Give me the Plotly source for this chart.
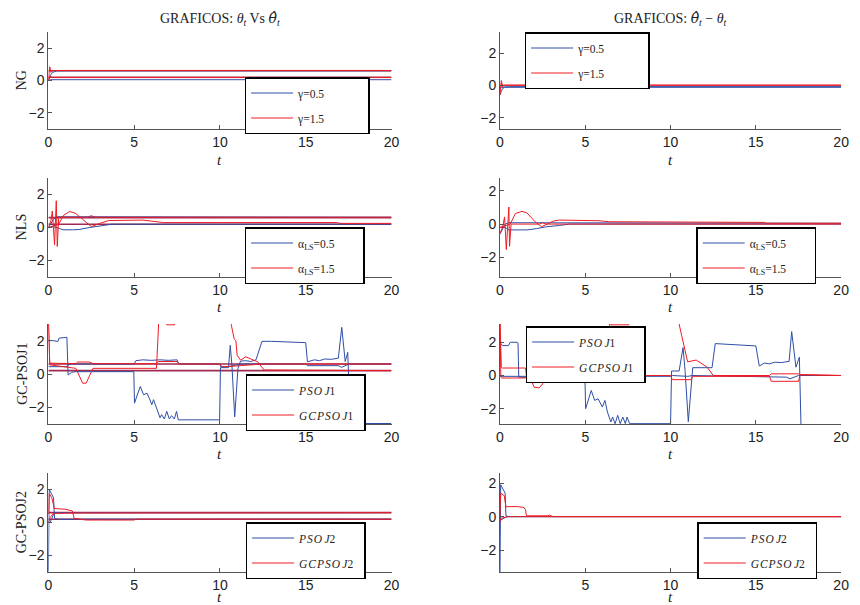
import plotly.graph_objects as go

W, H = 860, 605

# ---------------- data ----------------
t_span = [0, 20]
theta_true = [0.6, 0.2]
x_ticks = [0, 5, 10, 15, 20]
y_ticks = [-2, 0, 2]

legend_ng = ["γ=0.5", "γ=1.5"]
legend_nls = ["α<sub>LS</sub>=0.5", "α<sub>LS</sub>=1.5"]
legend_j1 = ["<i>P\u200aS\u200aO\u2009J</i>1", "<i>G\u200aC\u200aP\u200aS\u200aO\u2009J</i>1"]
legend_j2 = ["<i>P\u200aS\u200aO\u2009J</i>2", "<i>G\u200aC\u200aP\u200aS\u200aO\u2009J</i>2"]
row_labels = ["NG", "NLS", "GC-PSOJ1", "GC-PSOJ2"]

# NG (left: estimates, right: errors)
ng_b1_t = [0, 0.1, 0.25, 0.5, 20]
ng_b1_v = [0.0, 0.3, 0.5, 0.6, 0.6]
ng_b2_t = [0, 0.1, 20]
ng_b2_v = [0.0, 0.05, 0.05]
ng_r1_t = [0, 0.08, 0.15, 0.25, 20]
ng_r1_v = [0.0, 0.85, 0.5, 0.62, 0.62]
ng_r2_t = [0, 0.1, 0.2, 20]
ng_r2_v = [0.0, 0.3, 0.18, 0.18]

ngerr_b1_t = [0, 0.1, 0.25, 0.5, 20]
ngerr_b1_v = [-0.6, -0.3, -0.1, -0.08, -0.08]
ngerr_b2_t = [0, 0.1, 20]
ngerr_b2_v = [-0.2, -0.12, -0.12]
ngerr_r1_t = [0, 0.08, 0.15, 0.25, 20]
ngerr_r1_v = [-0.6, 0.3, -0.1, 0.02, 0.02]
ngerr_r2_t = [0, 0.1, 0.2, 20]
ngerr_r2_v = [-0.2, 0.1, 0.0, 0.0]

# NLS
nls_b1_t = [0, 0.3, 0.5, 3, 4, 20]
nls_b1_v = [0.0, 0.5, 0.65, 0.65, 0.62, 0.62]
nls_b2_t = [0, 0.3, 0.65, 0.85, 1.4, 1.8, 2.4, 3.1, 3.7, 20]
nls_b2_v = [0.0, 0.05, -0.06, -0.14, -0.14, -0.12, 0.0, 0.1, 0.2, 0.2]
nls_r1_t = [0, 0.15, 0.23, 0.3, 0.36, 0.46, 0.52, 0.6, 0.8, 2.3, 2.5, 2.7, 20]
nls_r1_v = [0.0, 0.4, 1.0, -0.3, -1.05, 1.62, -1.15, 0.6, 0.62, 0.62, 0.72, 0.62, 0.62]
nls_r2_t = [0, 0.6, 0.9, 1.25, 1.6, 2.0, 2.5, 3.0, 3.5, 5.5, 6.0, 6.7, 16.8, 17.0, 20]
nls_r2_v = [0.0, 0.2, 0.75, 0.97, 0.85, 0.5, 0.05, 0.25, 0.42, 0.45, 0.38, 0.3, 0.3, 0.25, 0.25]

nlserr_b1_t = [0, 0.3, 0.52, 2.15, 3.0, 20]
nlserr_b1_v = [-0.6, 0.0, 0.08, 0.08, 0.05, 0.05]
nlserr_b2_t = [0, 0.3, 0.52, 1.58, 2.15, 2.73, 3.5, 4.08, 20]
nlserr_b2_v = [-0.2, -0.2, -0.35, -0.35, -0.27, -0.16, -0.08, 0.0, 0.0]
nlserr_r1_t = [0, 0.15, 0.27, 0.37, 0.52, 0.56, 0.65, 2.3, 2.5, 2.7, 20]
nlserr_r1_v = [-0.55, -0.2, 0.43, -1.53, 1.02, -1.33, 0.0, 0.0, 0.08, 0.0, 0.0]
nlserr_r2_t = [0, 0.6, 0.9, 1.29, 1.58, 2.06, 2.44, 2.73, 3.12, 3.5, 5.42, 5.8, 6.4,
               10.5, 10.6, 15.5, 15.6, 20]
nlserr_r2_v = [-0.2, 0.0, 0.63, 0.76, 0.67, 0.14, -0.16, 0.0, 0.18, 0.24, 0.24, 0.2, 0.14,
               0.14, 0.1, 0.1, 0.05, 0.05]

# GC-PSO J1
j1_b1_t = [0, 0.3, 0.55, 0.62, 1.08, 1.15, 1.35, 1.6, 4.98, 5.02, 5.2, 5.36, 5.55, 5.75,
           5.9, 6.03, 6.13, 6.32, 6.51, 6.6, 6.76, 6.9, 7.05, 7.18, 7.34, 7.47, 7.57, 9.98,
           10.03, 10.5, 10.6, 10.7, 10.86, 11.05, 11.2, 11.5, 11.8, 12.1, 12.45, 13.0, 15.0,
           15.1, 15.5, 15.8, 16.1, 16.5, 16.9, 17.1, 17.3, 17.45, 17.6, 20]
j1_b1_v = [2.0, 2.0, 1.95, 2.15, 2.2, -0.06, 0.1, 0.14, 0.14, -1.75, -1.2, -0.75, -1.25, -1.15,
           -1.5, -1.84, -1.54, -2.04, -2.63, -2.44, -2.7, -2.24, -2.7, -2.5, -2.7, -2.24, -2.75, -2.75,
           0.38, 0.38, 1.72, 0.5, -2.57, 0.34, 0.77, 0.8, 0.75, 0.85, 1.96, 1.96, 1.88,
           0.73, 0.85, 0.8, 0.9, 0.88, 0.95, 2.8, 0.75, 1.3, -2.97, -2.97]
j1_b2_t = [0, 1.1, 1.2, 5.0, 5.1, 5.5, 6.0, 6.5, 7.0, 7.5, 7.6, 10.0, 10.05, 10.5, 11.2,
           15.0, 15.1, 16.9, 17.1, 17.3, 17.5, 20]
j1_b2_v = [0.44, 0.44, 0.6, 0.6, 0.8, 0.85, 0.82, 0.85, 0.82, 0.85, 0.6, 0.6, 0.42, 0.45, 0.6,
           0.6, 0.5, 0.5, 0.4, 0.5, 0.6, 0.6]
j1_r1_t = [0, 0.08, 1.6, 1.7, 2.4, 2.6, 6.3, 6.4, 7.5, 7.6, 10.0, 10.1, 10.5, 12.5, 20]
j1_r1_v = [3.3, 0.65, 0.62, 0.72, 0.72, 0.62, 0.62, 0.75, 0.75, 0.6, 0.6, 0.45, 0.45, 0.6, 0.6]
j1_r2_t = [0, 0.08, 1.6, 1.75, 2.0, 2.2, 2.4, 2.6, 6.3, 6.45, 6.85, 6.9, 7.35, 7.4, 10.6,
           10.67, 10.83, 10.93, 11.0, 11.2, 11.5, 11.7, 12.0, 12.2, 12.57, 17.45, 17.6, 20]
j1_r2_v = [3.3, 0.55, 0.34, 0.0, -0.55, -0.55, -0.1, 0.34, 0.34, 3.5, 3.5, 2.95, 2.95, 3.5, 3.5,
           2.9, 2.1, 2.0, 1.13, 0.83, 1.03, 0.95, 0.85, 0.73, 0.24, 0.24, 0.2, 0.2]

j1err_b1_t = [0, 0.15, 0.5, 0.6, 1.0, 1.06, 1.1, 4.98, 5.02, 5.35, 5.55, 5.75, 6.0, 6.15, 6.3,
              6.5, 6.6, 6.75, 6.9, 7.05, 7.2, 7.35, 7.45, 7.6, 10.0, 10.06, 10.5, 10.73, 10.85,
              11.04, 11.3, 12.43, 12.62, 15.0, 15.2, 15.5, 15.8, 16.1, 16.5, 16.95, 17.1, 17.35,
              17.55, 17.65, 20]
j1err_b1_v = [1.98, 1.8, 1.8, 2.0, 2.0, 1.95, -0.1, -0.1, -2.0, -0.9, -1.5, -1.4, -1.9, -1.5, -2.2,
              -2.8, -2.5, -2.9, -2.4, -2.9, -2.5, -2.9, -2.5, -2.9, -2.9, 0.27, 0.27, 1.68, 0.3,
              -2.78, 0.47, 0.47, 1.92, 1.78, 0.57, 0.75, 0.7, 0.8, 0.78, 0.85, 2.64, 0.5,
              1.1, -3.2, -3.2]
j1err_b2_t = [0, 1.1, 10.0, 10.1, 11.0, 11.3, 15.8, 16.8, 17.0, 17.2, 17.5, 20]
j1err_b2_v = [-0.05, -0.05, -0.05, 0.0, -0.05, 0.0, -0.1, -0.1, -0.2, -0.1, 0.0, 0.0]
j1err_r1_t = [0, 0.05, 0.1, 1.5, 1.6, 6.3, 6.4, 7.5, 7.6, 10.0, 10.1, 11.2, 11.3, 15.8, 15.9,
              17.5, 17.6, 20]
j1err_r1_v = [3.3, -0.1, -0.15, -0.15, 0.0, 0.0, -0.2, -0.2, 0.0, 0.0, -0.25, -0.25, -0.05, -0.05,
              -0.35, -0.35, 0.05, 0.0]
j1err_r2_t = [0, 0.08, 0.15, 1.5, 1.55, 1.75, 2.0, 2.3, 2.5, 2.6, 6.3, 6.45, 6.5, 7.55, 7.6,
              10.45, 10.5, 11.0, 11.5, 12.0, 12.15, 12.5, 15.8, 15.9, 17.5, 17.6, 20]
j1err_r2_v = [3.3, 0.5, 0.45, 0.45, 0.0, -0.1, -0.7, -0.75, -0.5, 0.0, 0.0, 3.5, 3.05, 3.05, 3.5,
              3.5, 3.1, 0.82, 0.93, 0.62, 0.5, 0.0, 0.0, 0.1, 0.1, 0.05, 0.0]

# GC-PSO J2
j2_b1_t = [0, 0.05, 0.3, 0.36, 0.6, 20]
j2_b1_v = [-2.98, 2.0, 1.5, 0.25, 0.2, 0.2]
j2_b2_t = [0, 0.1, 0.3, 0.5, 20]
j2_b2_v = [0.0, 0.0, 0.5, 0.6, 0.6]
j2_r1_t = [0, 0.05, 0.2, 0.35, 1.0, 1.4, 1.5, 2.0, 2.2, 3.0, 5.0, 5.1, 20]
j2_r1_v = [0.5, 1.75, 1.5, 0.85, 0.8, 0.7, 0.25, 0.2, 0.15, 0.15, 0.15, 0.2, 0.2]
j2_r2_t = [0, 0.1, 0.3, 1.5, 20]
j2_r2_v = [0.0, 0.3, 0.55, 0.58, 0.6]

j2err_b1_t = [0, 0.04, 0.3, 0.35, 0.5, 20]
j2err_b1_v = [-3.4, 1.9, 1.41, 0.05, 0.0, 0.0]
j2err_b2_t = [0, 0.05, 0.4, 20]
j2err_b2_v = [-0.3, -0.2, 0.0, 0.0]
j2err_r1_t = [0, 0.04, 0.25, 0.35, 1.0, 1.4, 1.5, 1.55, 2.8, 2.9, 3.0, 3.1, 20]
j2err_r1_v = [0.0, 1.4, 1.25, 0.59, 0.6, 0.55, 0.4, 0.05, 0.05, 0.1, 0.05, 0.0, 0.0]
j2err_r2_t = [0, 0.05, 0.5, 20]
j2err_r2_v = [-0.3, -0.1, 0.0, 0.0]

# ---------------- layout geometry (pixels) ----------------
BLUE = "#2f4ea6"
RED = "#ee1c24"
TRUE_C = "#a02a50"
col_px = [(45, 393), (503, 849)]
row_px = [(32, 129), (178, 277), (324, 424), (473, 572)]
y_ranges = [
    ([-3, 3], [-2.7, 3.3]),
    ([-3, 3], [-3.17, 2.76]),
    ([-3, 3], [-2.92, 3.1]),
    ([-3, 3], [-3.3, 2.6]),
]
legend_px = [
    ((244, 77), (528, 32)),
    ((244, 227), (702, 227)),
    ((245, 374), (529, 326)),
    ((245, 522), (703, 522)),
]
legend_pad = [13, 8, 2, 2]  # trailing no-break spaces to widen the legend boxes

panels = [
    (0, 0, legend_ng, [(ng_b1_t, ng_b1_v), (ng_b2_t, ng_b2_v)], [(ng_r1_t, ng_r1_v), (ng_r2_t, ng_r2_v)]),
    (0, 1, legend_ng, [(ngerr_b1_t, ngerr_b1_v), (ngerr_b2_t, ngerr_b2_v)],
     [(ngerr_r1_t, ngerr_r1_v), (ngerr_r2_t, ngerr_r2_v)]),
    (1, 0, legend_nls, [(nls_b1_t, nls_b1_v), (nls_b2_t, nls_b2_v)], [(nls_r1_t, nls_r1_v), (nls_r2_t, nls_r2_v)]),
    (1, 1, legend_nls, [(nlserr_b1_t, nlserr_b1_v), (nlserr_b2_t, nlserr_b2_v)],
     [(nlserr_r1_t, nlserr_r1_v), (nlserr_r2_t, nlserr_r2_v)]),
    (2, 0, legend_j1, [(j1_b1_t, j1_b1_v), (j1_b2_t, j1_b2_v)], [(j1_r1_t, j1_r1_v), (j1_r2_t, j1_r2_v)]),
    (2, 1, legend_j1, [(j1err_b1_t, j1err_b1_v), (j1err_b2_t, j1err_b2_v)],
     [(j1err_r1_t, j1err_r1_v), (j1err_r2_t, j1err_r2_v)]),
    (3, 0, legend_j2, [(j2_b1_t, j2_b1_v), (j2_b2_t, j2_b2_v)], [(j2_r1_t, j2_r1_v), (j2_r2_t, j2_r2_v)]),
    (3, 1, legend_j2, [(j2err_b1_t, j2err_b1_v), (j2err_b2_t, j2err_b2_v)],
     [(j2err_r1_t, j2err_r1_v), (j2err_r2_t, j2err_r2_v)]),
]

fig = go.Figure()
layout = {}
SANS = "Liberation Sans, Arial, sans-serif"
SERIF = "Liberation Serif, Times New Roman, serif"

for i, (r, c, names, blues, reds) in enumerate(panels):
    n = i + 1
    xa = "x" if n == 1 else f"x{n}"
    ya = "y" if n == 1 else f"y{n}"
    lg = "legend" if n == 1 else f"legend{n}"
    x0, x1 = col_px[c]
    y0, y1 = row_px[r]
    xticktext = [str(v) for v in x_ticks]
    if r == 3 and c == 1:
        xticktext[0] = ""
    axis_common = dict(showline=True, linecolor="#555", linewidth=1, ticks="inside", ticklen=4,
                       tickcolor="#555", showgrid=False, zeroline=False,
                       tickfont=dict(family=SANS, size=14, color="#222"))
    layout["xaxis" if n == 1 else f"xaxis{n}"] = dict(
        domain=[x0 / W, x1 / W], anchor=ya, range=t_span, tickvals=x_ticks, ticktext=xticktext,
        **axis_common)
    layout["yaxis" if n == 1 else f"yaxis{n}"] = dict(
        domain=[1 - y1 / H, 1 - y0 / H], anchor=xa, range=y_ranges[r][c], tickvals=y_ticks,
        **axis_common)
    lx, ly = legend_px[r][c]
    layout[lg] = dict(x=lx / W, y=1 - ly / H, xanchor="left", yanchor="top", bgcolor="white",
                      bordercolor="black", borderwidth=1.5, font=dict(family=SERIF, size=11.5, color="#222"),
                      tracegroupgap=6, itemwidth=42, traceorder="grouped")
    pad = "\u00a0" * legend_pad[r]
    if c == 0:
        for tv in theta_true:
            fig.add_trace(go.Scatter(x=t_span, y=[tv, tv], mode="lines", xaxis=xa, yaxis=ya,
                                     line=dict(color=TRUE_C, width=1.6), showlegend=False,
                                     hoverinfo="skip"))
    for k, (tt, vv) in enumerate(blues):
        assert len(tt) == len(vv)
        fig.add_trace(go.Scatter(x=tt, y=vv, mode="lines", xaxis=xa, yaxis=ya,
                                 line=dict(color=BLUE, width=1), name=names[0] + pad,
                                 legend=lg, legendgroup=f"b{n}", showlegend=(k == 0)))
    for k, (tt, vv) in enumerate(reds):
        assert len(tt) == len(vv)
        fig.add_trace(go.Scatter(x=tt, y=vv, mode="lines", xaxis=xa, yaxis=ya,
                                 line=dict(color=RED, width=1), name=names[1] + pad,
                                 legend=lg, legendgroup=f"r{n}", showlegend=(k == 0)))

HAT = '<span style="font-family:DejaVu Serif">θ̂</span>'
annotations = []
title_font = dict(family=SERIF, size=14, color="#222")
annotations.append(dict(x=(col_px[0][0] + col_px[0][1]) / 2 / W, y=1 - 19 / H, xref="paper", yref="paper",
                        xanchor="center", yanchor="middle",
                        text=f"GRAFICOS: <i>θ</i><sub><i>t</i></sub> Vs <i>{HAT}</i><sub><i>t</i></sub>",
                        showarrow=False, font=title_font))
annotations.append(dict(x=(col_px[1][0] + col_px[1][1]) / 2 / W, y=1 - 19 / H, xref="paper", yref="paper",
                        xanchor="center", yanchor="middle",
                        text=f"GRAFICOS: <i>{HAT}</i><sub><i>t</i></sub> − <i>θ</i><sub><i>t</i></sub>",
                        showarrow=False, font=title_font))
t_label_y = [160, 307, 454, 597]
for r in range(4):
    ymid = (row_px[r][0] + row_px[r][1]) / 2
    annotations.append(dict(x=18 / W, y=1 - ymid / H, xref="paper", yref="paper", text=row_labels[r],
                            xanchor="center", yanchor="middle",
                            textangle=-90, showarrow=False, font=dict(family=SERIF, size=14, color="#222")))
    for c in range(2):
        annotations.append(dict(x=(col_px[c][0] + col_px[c][1]) / 2 / W, y=1 - t_label_y[r] / H,
                                xref="paper", yref="paper", text="<i>t</i>", showarrow=False,
                                xanchor="center", yanchor="middle",
                                font=dict(family=SERIF, size=15, color="#222")))

fig.update_layout(width=W, height=H, margin=dict(l=0, r=0, t=0, b=0), plot_bgcolor="white",
                  paper_bgcolor="white", annotations=annotations, **layout)
fig.write_html("out.html")
